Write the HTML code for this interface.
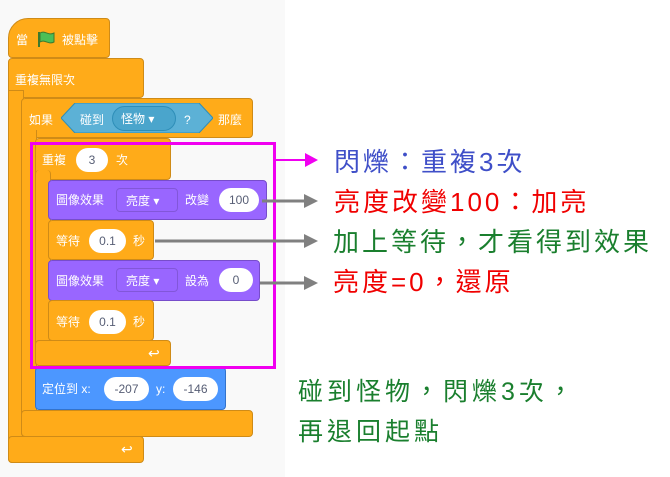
<!DOCTYPE html>
<html><head><meta charset="utf-8"><style>
body{margin:0;width:670px;height:477px;background:#fff;position:relative;overflow:hidden;font-family:"Liberation Sans","Noto Sans CJK TC",sans-serif}
.a{position:absolute}
.ws{left:0;top:0;width:285px;height:477px;background:#f9f9f9}
.o{background:#ffab19;border:1px solid #cf8b17;box-sizing:border-box;border-radius:4px}
.p{background:#9966ff;border:1px solid #774dcb;box-sizing:border-box;border-radius:4px}
.b{background:#4c97ff;border:1px solid #3373cc;box-sizing:border-box;border-radius:4px}
.t{color:#fff;font-size:12px;line-height:14px;white-space:nowrap}
.pill{background:#fff;border-radius:12px;color:#575e75;font-size:12px;text-align:center;line-height:24px;height:24px}
.dd{border:1px solid rgba(0,0,0,.15);border-radius:4px;color:#fff;font-size:12px;line-height:24px;height:24px;box-sizing:border-box;padding-left:9px}
.lab{font-size:26px;letter-spacing:3px;white-space:nowrap;line-height:30px;font-family:"Liberation Sans","Noto Sans CJK TC",sans-serif}
</style></head><body>
<div class="a ws"></div>
<div class="a o" style="left:8px;top:58px;width:136px;height:40px"></div>
<div class="a o" style="left:8px;top:90px;width:16px;height:373px;border-radius:0 0 0 4px"></div>
<div class="a o" style="left:8px;top:436px;width:136px;height:27px"></div>
<div class="a o" style="left:8px;top:18px;width:102px;height:40px;border-radius:20px 4px 4px 4px"></div>
<div class="a t" style="left:16px;top:33px">當</div>
<svg class="a" style="left:36px;top:30px" width="20" height="18"><path d="M3 2v15" stroke="#3d7a2e" stroke-width="2"/><path d="M4 3c5-3 8 3 14 0v9c-6 3-9-3-14 0z" fill="#4cbf56" stroke="#3d7a2e"/></svg>
<div class="a t" style="left:62px;top:33px">被點擊</div>
<div class="a t" style="left:15px;top:73px">重複無限次</div>
<div class="a o" style="left:21px;top:98px;width:232px;height:40px"></div>
<div class="a o" style="left:21px;top:130px;width:16px;height:307px;border-radius:0 0 0 4px;border-top:none"></div>
<div class="a o" style="left:21px;top:410px;width:232px;height:27px"></div>
<div class="a t" style="left:29px;top:113px">如果</div>
<svg class="a" style="left:61px;top:103px" width="152" height="30"><path d="M14 0H138L152 15 138 30H14L0 15Z" fill="#5cb1d6" stroke="#2e8eb8"/></svg>
<div class="a t" style="left:80px;top:113px">碰到</div>
<div class="a" style="left:112px;top:106px;width:64px;height:25px;border-radius:13px;background:#4aa5cc;border:1px solid #2e8eb8;box-sizing:border-box"></div>
<div class="a t" style="left:121px;top:112px">怪物 ▾</div>
<div class="a t" style="left:184px;top:113px">?</div>
<div class="a t" style="left:218px;top:113px">那麼</div>
<div class="a o" style="left:35px;top:138px;width:136px;height:42px"></div>
<div class="a o" style="left:35px;top:170px;width:16px;height:196px;border-top:none"></div>
<div class="a o" style="left:35px;top:340px;width:136px;height:26px"></div>
<div class="a t" style="left:42px;top:153px">重複</div>
<div class="a pill" style="left:76px;top:148px;width:32px">3</div>
<div class="a t" style="left:116px;top:153px">次</div>
<div class="a t" style="left:148px;top:346px;font-size:14px">↩</div>
<div class="a p" style="left:48px;top:180px;width:219px;height:40px"></div>
<div class="a t" style="left:56px;top:193px">圖像效果</div>
<div class="a dd" style="left:116px;top:188px;width:62px">亮度 ▾</div>
<div class="a t" style="left:185px;top:193px">改變</div>
<div class="a pill" style="left:219px;top:188px;width:40px">100</div>
<div class="a o" style="left:48px;top:220px;width:106px;height:40px"></div>
<div class="a t" style="left:56px;top:234px">等待</div>
<div class="a pill" style="left:89px;top:229px;width:37px">0.1</div>
<div class="a t" style="left:133px;top:234px">秒</div>
<div class="a p" style="left:48px;top:260px;width:212px;height:41px"></div>
<div class="a t" style="left:56px;top:274px">圖像效果</div>
<div class="a dd" style="left:116px;top:268px;width:62px">亮度 ▾</div>
<div class="a t" style="left:185px;top:274px">設為</div>
<div class="a pill" style="left:219px;top:268px;width:34px">0</div>
<div class="a o" style="left:48px;top:300px;width:106px;height:41px"></div>
<div class="a t" style="left:56px;top:315px">等待</div>
<div class="a pill" style="left:89px;top:310px;width:37px">0.1</div>
<div class="a t" style="left:133px;top:315px">秒</div>
<div class="a b" style="left:35px;top:367px;width:191px;height:43px"></div>
<div class="a t" style="left:42px;top:382px">定位到 x:</div>
<div class="a pill" style="left:104px;top:377px;width:45px">-207</div>
<div class="a t" style="left:156px;top:382px">y:</div>
<div class="a pill" style="left:173px;top:377px;width:45px">-146</div>
<div class="a t" style="left:121px;top:442px;font-size:14px">↩</div>
<div class="a" style="left:30px;top:142px;width:246px;height:227px;border:3px solid #f000f0;box-sizing:border-box"></div>
<svg class="a" style="left:0;top:0" width="670" height="477">
<path d="M276 160H306" stroke="#f000f0" stroke-width="2"/><path d="M305 153L318 160 305 167Z" fill="#f000f0"/>
<g stroke="#808080" stroke-width="3" fill="#808080">
<path d="M262 201H305"/><path d="M304 194L318 201 304 208Z" stroke="none"/>
<path d="M155 241H305"/><path d="M304 234L318 241 304 248Z" stroke="none"/>
<path d="M260 283H305"/><path d="M304 276L318 283 304 290Z" stroke="none"/>
</g></svg>
<div class="a lab" style="left:334px;top:147px;color:#3f4fc8">閃爍：重複3次</div>
<div class="a lab" style="left:334px;top:187px;color:#f00000">亮度改變100：加亮</div>
<div class="a lab" style="left:333px;top:227px;color:#1a7f2e">加上等待，才看得到效果</div>
<div class="a lab" style="left:333px;top:267px;color:#f00000">亮度=0，還原</div>
<div class="a lab" style="left:298px;top:377px;color:#1a7f2e;font-size:25px;letter-spacing:4px">碰到怪物，閃爍3次，</div>
<div class="a lab" style="left:298px;top:417px;color:#1a7f2e;font-size:25px;letter-spacing:4px">再退回起點</div>
</body></html>
